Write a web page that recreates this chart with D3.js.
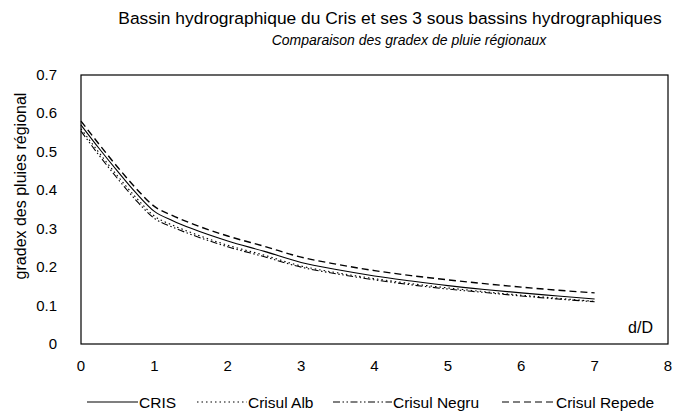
<!DOCTYPE html>
<html>
<head>
<meta charset="utf-8">
<script src="https://cdn.jsdelivr.net/npm/d3@7"></script>
<style>
  body { margin: 0; background: #fff; }
  text { font-family: "Liberation Sans", Arial, sans-serif; fill: #000; }
</style>
</head>
<body>
<div id="chart-container"></div>
<script>
// d/D values where the curves were read
var dD = [0, 0.25, 0.5, 0.75, 1, 1.25, 1.5, 2, 2.5, 3, 3.5, 4, 4.5, 5, 5.5, 6, 6.5, 7];

var cris   = [0.570, 0.508, 0.449, 0.393, 0.345, 0.321, 0.301, 0.268, 0.241, 0.212, 0.193, 0.177, 0.164, 0.152, 0.142, 0.133, 0.125, 0.117];
var alb    = [0.560, 0.497, 0.437, 0.381, 0.333, 0.309, 0.290, 0.257, 0.231, 0.203, 0.185, 0.170, 0.157, 0.146, 0.136, 0.127, 0.119, 0.111];
var negru  = [0.554, 0.490, 0.430, 0.374, 0.327, 0.304, 0.285, 0.253, 0.227, 0.200, 0.182, 0.167, 0.154, 0.143, 0.134, 0.125, 0.117, 0.110];
var repede = [0.580, 0.519, 0.460, 0.405, 0.358, 0.334, 0.314, 0.281, 0.254, 0.226, 0.207, 0.191, 0.178, 0.167, 0.157, 0.148, 0.140, 0.133];

var series_names = ["CRIS", "Crisul Alb", "Crisul Negru", "Crisul Repede"];
var x_ticks = [0, 1, 2, 3, 4, 5, 6, 7, 8];
var y_ticks = [0, 0.1, 0.2, 0.3, 0.4, 0.5, 0.6, 0.7];

var svg_width = 679;
var svg_height = 419;
var margin = {top: 75, right: 11, bottom: 75, left: 81};

var dashes = ["none", "1.5,3", "7,2.5,1.5,2.5,1.5,2.5", "7,4"];

var svg = d3.select("#chart-container")
	.append("svg")
	.attr("width", svg_width)
	.attr("height", svg_height);

var x = d3.scaleLinear()
	.domain([0, 8])
	.range([margin.left, svg_width - margin.right]);

var y = d3.scaleLinear()
	.domain([0, 0.7])
	.range([svg_height - margin.bottom, margin.top]);

// titles
svg.append("text")
	.attr("x", 390).attr("y", 24)
	.attr("text-anchor", "middle")
	.style("font-size", "17.4px")
	.text("Bassin hydrographique du Cris et ses 3 sous bassins hydrographiques");

svg.append("text")
	.attr("x", 409).attr("y", 45)
	.attr("text-anchor", "middle")
	.style("font-size", "14px")
	.style("font-style", "italic")
	.text("Comparaison des gradex de pluie régionaux");

// frame
svg.append("rect")
	.attr("x", x(0)).attr("y", y(0.7))
	.attr("width", x(8) - x(0))
	.attr("height", y(0) - y(0.7))
	.attr("fill", "none")
	.attr("stroke", "#000")
	.attr("stroke-width", 1.2);

// tick labels
svg.selectAll(".ylab")
	.data(y_ticks)
	.enter().append("text")
	.attr("class", "ylab")
	.attr("x", 57)
	.attr("y", function(d) { return y(d) + 5; })
	.attr("text-anchor", "end")
	.style("font-size", "15px")
	.text(function(d) { return d === 0 ? "0" : d3.format(".1f")(d); });

svg.selectAll(".xlab")
	.data(x_ticks)
	.enter().append("text")
	.attr("class", "xlab")
	.attr("x", function(d) { return x(d); })
	.attr("y", 371)
	.attr("text-anchor", "middle")
	.style("font-size", "15px")
	.text(function(d) { return d; });

svg.append("text")
	.attr("transform", "translate(26,186) rotate(-90)")
	.attr("text-anchor", "middle")
	.style("font-size", "16px")
	.text("gradex des pluies régional");

svg.append("text")
	.attr("x", 653).attr("y", 333)
	.attr("text-anchor", "end")
	.style("font-size", "16px")
	.text("d/D");

// curves
var line = d3.line()
	.x(function(d) { return x(d[0]); })
	.y(function(d) { return y(d[1]); })
	.curve(d3.curveMonotoneX);

var all_series = [cris, alb, negru, repede];

svg.selectAll(".curve")
	.data(all_series)
	.enter().append("path")
	.attr("class", "curve")
	.attr("d", function(vals) { return line(vals.map(function(v, i) { return [dD[i], v]; })); })
	.attr("fill", "none")
	.attr("stroke", "#000")
	.attr("stroke-width", function(d, i) { return i === 3 ? 1.4 : 1.1; })
	.attr("stroke-dasharray", function(d, i) { return dashes[i]; });

// legend
var legend_x = [87, 197, 333, 502];
var legend_len = [51, 50, 59, 53];
var lg = svg.selectAll(".legend")
	.data(series_names)
	.enter().append("g")
	.attr("class", "legend")
	.attr("transform", function(d, i) { return "translate(" + legend_x[i] + ",402)"; });

lg.append("line")
	.attr("x1", 0).attr("x2", function(d, i) { return legend_len[i]; })
	.attr("y1", 0).attr("y2", 0)
	.attr("stroke", "#000")
	.attr("stroke-width", 1.1)
	.attr("stroke-dasharray", function(d, i) { return dashes[i]; });

lg.append("text")
	.attr("x", function(d, i) { return legend_len[i] + 1; })
	.attr("y", 5.5)
	.style("font-size", "15.5px")
	.text(function(d) { return d; });
</script>
</body>
</html>
